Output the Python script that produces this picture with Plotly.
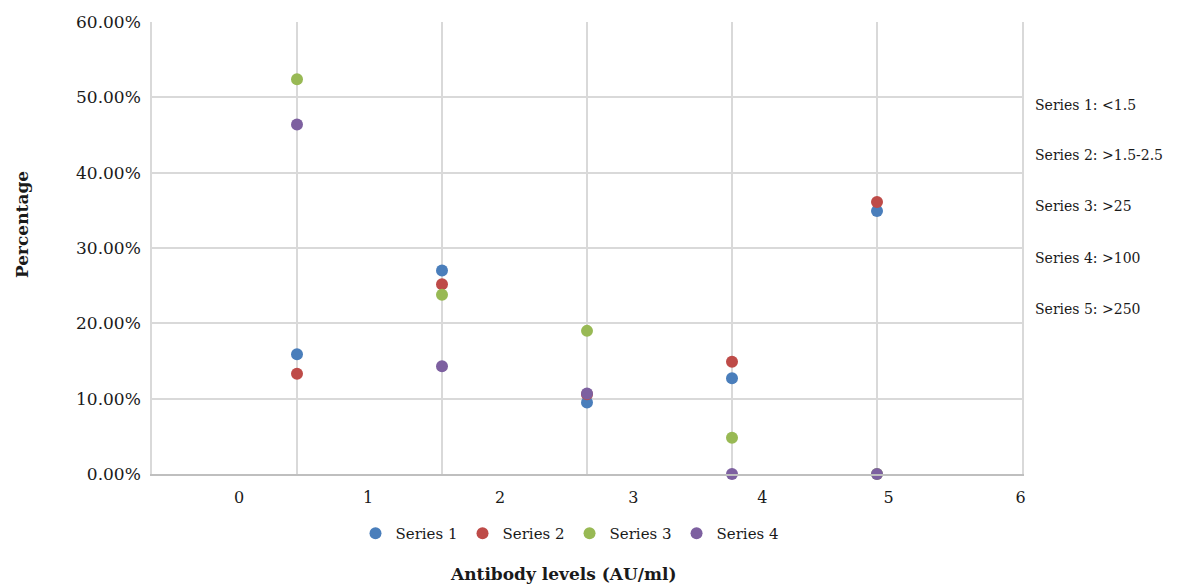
import plotly.graph_objects as go

# ---- data (percent values) ----
groups = [1, 2, 3, 4, 5]
series_names = ["Series 1", "Series 2", "Series 3", "Series 4"]
series1 = [15.9, 27.0, 9.5, 12.7, 34.9]
series2 = [13.3, 25.2, 10.6, 14.9, 36.1]
series3 = [52.4, 23.8, 19.0, 4.8, 0.0]
series4 = [46.4, 14.3, 10.7, 0.0, 0.0]
colors = ["#4A7EBB", "#BE4B48", "#98B954", "#7D60A0"]

x_tick_text = ["0", "1", "2", "3", "4", "5", "6"]
x_tick_pos = [0.60, 1.49, 2.40, 3.32, 4.21, 5.08, 5.99]
y_ticks = [0, 10, 20, 30, 40, 50, 60]
y_tick_text = [f"{v:.2f}%" for v in y_ticks]

notes = ["Series 1: <1.5", "Series 2: >1.5-2.5", "Series 3: >25",
         "Series 4: >100", "Series 5: >250"]
note_y = [103, 154, 205, 257, 308]  # pixel rows

FONT = "DejaVu Serif"

fig = go.Figure()
for name, vals, col in zip(series_names, [series1, series2, series3, series4], colors):
    fig.add_trace(go.Scatter(
        x=groups, y=vals, mode="markers", name=name,
        marker=dict(color=col, size=12, line=dict(width=0)),
        cliponaxis=False,
    ))

W, H = 1181, 584
L, R, T, B = 152, 159, 20, 110

fig.update_layout(
    width=W, height=H,
    margin=dict(l=L, r=R, t=T, b=B),
    paper_bgcolor="white", plot_bgcolor="white",
    font=dict(family=FONT, size=15, color="#1a1a1a"),
    showlegend=True,
    legend=dict(orientation="h", x=(570 - L) / (W - L - R), xanchor="center", xref="paper",
                y=-0.095, yanchor="top", font=dict(size=15),
                itemwidth=30, tracegroupgap=0,
                bgcolor="rgba(0,0,0,0)"),
    xaxis=dict(range=[0, 6], tickvals=[0, 1, 2, 3, 4, 5, 6], showticklabels=False,
               showgrid=True, gridcolor="#D9D9D9", gridwidth=1.5,
               zeroline=False, showline=True, linecolor="#BFBFBF", linewidth=1.5,
               ticks=""),
    xaxis2=dict(range=[0, 6], overlaying="x", anchor="y", side="bottom",
                tickvals=x_tick_pos, ticktext=x_tick_text, showgrid=False,
                zeroline=False, showline=False, ticks="",
                tickfont=dict(size=16), ticklabelstandoff=12),
    yaxis=dict(range=[0, 60], tickvals=y_ticks, ticktext=y_tick_text,
               showgrid=True, gridcolor="#D9D9D9", gridwidth=1.5,
               zeroline=False, showline=True, mirror=True, linecolor="#D9D9D9",
               linewidth=1.5, ticks="", tickfont=dict(size=17),
               ticklabelstandoff=6),
)

# empty helper trace so the label axis is rendered
fig.add_trace(go.Scatter(x=[], y=[], xaxis="x2", yaxis="y", showlegend=False,
                         hoverinfo="skip"))

fig.add_annotation(text="<b>Antibody levels (AU/ml)</b>", xref="paper", yref="paper",
                   x=(563 - L) / (W - L - R), y=-(574 - (H - B)) / (H - T - B),
                   showarrow=False, font=dict(size=17), xanchor="center", yanchor="middle")
fig.add_annotation(text="<b>Percentage</b>", xref="paper", yref="paper",
                   x=(22 - L) / (W - L - R), y=((H - B) - 224) / (H - T - B),
                   textangle=-90, showarrow=False, font=dict(size=17),
                   xanchor="center", yanchor="middle")
for txt, py in zip(notes, note_y):
    fig.add_annotation(text=txt, xref="paper", yref="paper",
                       x=(1033 - L) / (W - L - R), y=((H - B) - py) / (H - T - B),
                       showarrow=False, font=dict(size=14),
                       xanchor="left", yanchor="middle")

fig.write_html("out.html", config={"displayModeBar": False},
               post_script="document.body.style.margin='0';")
